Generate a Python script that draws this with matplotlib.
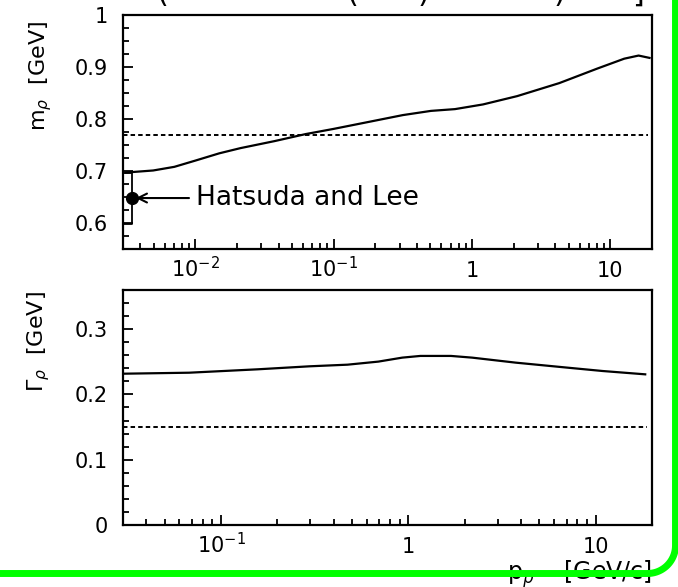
import numpy as np
import matplotlib
matplotlib.use('Agg')
import matplotlib.pyplot as plt
from matplotlib.lines import Line2D
from matplotlib.ticker import FixedLocator, FixedFormatter, MultipleLocator, LogLocator, NullFormatter

# ---------------- data ----------------
p_mass = [0.00313, 0.00496, 0.00705, 0.0100, 0.0149, 0.0212, 0.0374, 0.0627, 0.100,
          0.176, 0.316, 0.505, 0.753, 1.20, 2.12, 4.27, 8.05, 12.6, 16.0, 19.2]
m_rho = [0.697, 0.701, 0.708, 0.720, 0.734, 0.744, 0.7575, 0.771, 0.781,
         0.794, 0.8075, 0.8156, 0.819, 0.828, 0.844, 0.869, 0.897, 0.916, 0.922, 0.9175]

p_width = [0.0305, 0.0676, 0.157, 0.297, 0.474, 0.692, 0.929, 1.16, 1.69, 2.19,
           3.75, 7.10, 10.9, 18.4]
gamma_rho = [0.2318, 0.2333, 0.2385, 0.2431, 0.2456, 0.2503, 0.2564, 0.259, 0.259,
             0.2564, 0.2487, 0.241, 0.2359, 0.2308]

m_vacuum = 0.77
gamma_vacuum = 0.15
vac_p_top = [0.003, 18.8]
vac_p_bot = [0.03, 18.8]

# Hatsuda and Lee point with band
hl_p = 0.0035
hl_m = 0.648
hl_lo = 0.598
hl_hi = 0.696
hl_label = "Hatsuda and Lee"

top_xticks = [0.01, 0.1, 1, 10]
top_xticklabels = [r'$10^{-2}$', r'$10^{-1}$', '1', '10']
bot_xticks = [0.1, 1, 10]
bot_xticklabels = [r'$10^{-1}$', '1', '10']
top_yticks = [0.6, 0.7, 0.8, 0.9, 1.0]
top_yticklabels = ['0.6', '0.7', '0.8', '0.9', '1']
bot_yticks = [0.0, 0.1, 0.2, 0.3]
bot_yticklabels = ['0', '0.1', '0.2', '0.3']

# ---------------- figure ----------------
W, H = 678, 587
fig = plt.figure(figsize=(W / 100, H / 100), dpi=100)
plt.rcParams['mathtext.fontset'] = 'dejavusans'

def fx(px):
    return px / W

def fy(py):
    return 1 - py / H

ax1 = fig.add_axes([fx(123), fy(249), fx(652) - fx(123), fy(15) - fy(249)])
ax2 = fig.add_axes([fx(123), fy(525), fx(652) - fx(123), fy(290) - fy(525)])

TICKFS = 15

def style(ax, xticks, xlabels, yticks, ylabels, yminor):
    ax.set_xscale('log')
    for s in ax.spines.values():
        s.set_linewidth(1.6)
    ax.xaxis.set_major_locator(FixedLocator(xticks))
    ax.xaxis.set_major_formatter(FixedFormatter(xlabels))
    ax.xaxis.set_minor_locator(LogLocator(base=10, subs=np.arange(2, 10)))
    ax.xaxis.set_minor_formatter(NullFormatter())
    ax.yaxis.set_major_locator(FixedLocator(yticks))
    ax.yaxis.set_major_formatter(FixedFormatter(ylabels))
    ax.yaxis.set_minor_locator(MultipleLocator(yminor))
    ax.tick_params(which='both', direction='in', top=False, right=False,
                   width=1.3, labelsize=TICKFS)
    ax.tick_params(which='major', length=7.5)
    ax.tick_params(which='minor', length=4)
    ax.tick_params(axis='y', pad=11)
    ax.tick_params(axis='x', pad=20)
    for t in ax.xaxis.get_major_ticks():
        t.label1.set_verticalalignment('baseline')

# ---- top panel ----
ax1.plot(p_mass, m_rho, color='black', lw=1.6)
ax1.plot(vac_p_top, [m_vacuum, m_vacuum], color='black', lw=1.4, dashes=(2.3, 1.6))
ax1.plot([vac_p_top[0], hl_p, hl_p, vac_p_top[0]], [hl_hi, hl_hi, hl_lo, hl_lo],
         color='black', lw=1.3)
ax1.plot([hl_p], [hl_m], 'o', color='black', ms=8.5)
ax1.annotate('', xy=(hl_p * 1.06, hl_m), xytext=(0.0090, hl_m),
             arrowprops=dict(arrowstyle='->', color='black', lw=1.5,
                             mutation_scale=16, shrinkA=0, shrinkB=0))
ax1.text(0.0101, hl_m, hl_label, fontsize=19, va='center', ha='left')
ax1.set_xlim(0.003, 20)
ax1.set_ylim(0.55, 1.0)
style(ax1, top_xticks, top_xticklabels, top_yticks, top_yticklabels, 0.025)
ax1.set_ylabel(r'm$_{\rho}$  [GeV]', fontsize=16)
ax1.yaxis.set_label_coords(-0.13, 0.74)

# ---- bottom panel ----
ax2.plot(p_width, gamma_rho, color='black', lw=1.6)
ax2.plot(vac_p_bot, [gamma_vacuum, gamma_vacuum], color='black', lw=1.4, dashes=(2.3, 1.6))
ax2.set_xlim(0.03, 20)
ax2.set_ylim(0.0, 0.36)
style(ax2, bot_xticks, bot_xticklabels, bot_yticks, bot_yticklabels, 0.02)
ax2.set_ylabel(r'$\Gamma_{\rho}$  [GeV]', fontsize=16)
ax2.yaxis.set_label_coords(-0.134, 0.78)

# x label (partly hidden by the green frame)
fig.text(fx(652), fy(580), r'p$_{\rho}$    [GeV/c]', fontsize=17, ha='right',
         va='baseline', zorder=1)

# title fragments cut off at the top of the image
for xp, ch in [(162, '('), (352, '('), (423, ')'), (559, ')'), (638, ']')]:
    fig.text(fx(xp), fy(8), ch, fontsize=22, ha='center', va='bottom', zorder=1)

# green rounded frame (bottom + right edges)
r = 28
cx, cy = 675.5 - r, 573.5 - r
theta = np.linspace(np.pi / 2, 0, 30)
arc_x = cx + r * np.cos(theta)
arc_y = cy + r * np.sin(theta)
gx = np.concatenate([[-10], arc_x, [675.5]])
gy = np.concatenate([[573.5], arc_y, [-10]])
frame = Line2D(gx / W, 1 - gy / H, transform=fig.transFigure, color='#00ff00',
               lw=5, solid_capstyle='butt', zorder=10)
fig.add_artist(frame)

fig.savefig('out.png', dpi=100)
